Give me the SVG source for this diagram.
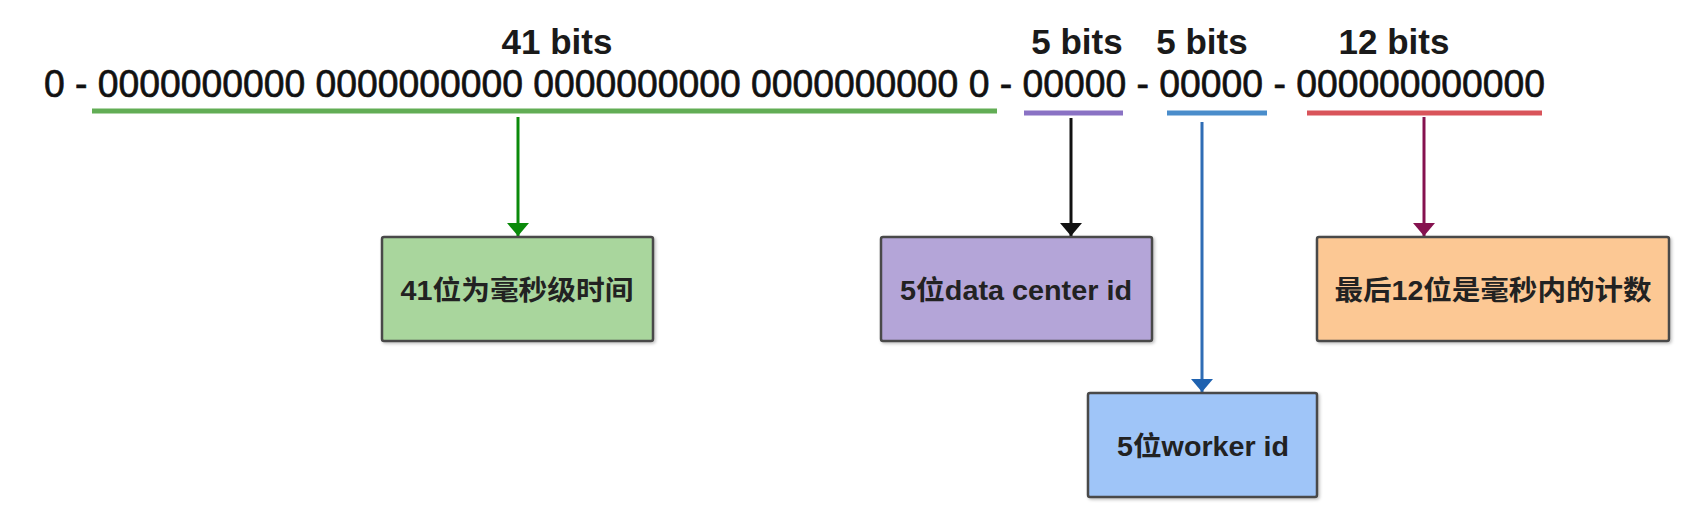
<svg xmlns="http://www.w3.org/2000/svg" width="1706" height="526" viewBox="0 0 1706 526">
<style>
.lbl{font-family:"Liberation Sans","Noto Sans CJK SC",sans-serif;font-weight:bold;font-size:35px;fill:#1a1a1a;text-anchor:middle}
.bits{font-family:"Liberation Sans","Noto Sans CJK SC",sans-serif;font-size:39px;fill:#111;stroke:#111;stroke-width:0.7}
.box{stroke:#4a4a4a;stroke-width:2.5}
.bt{font-family:"Liberation Sans","Noto Sans CJK SC",sans-serif;font-weight:bold;font-size:27px;fill:#222;text-anchor:middle;dominant-baseline:central}
.ul{stroke-width:5;fill:none}
.ar{stroke-width:3;fill:none}
</style>
<defs>
<filter id="sh" x="-5%" y="-5%" width="112%" height="115%">
<feDropShadow dx="1.5" dy="1.5" stdDeviation="1.5" flood-color="#000" flood-opacity="0.25"/>
</filter>
<marker id="mg" markerUnits="userSpaceOnUse" markerWidth="14" markerHeight="24" refX="13" refY="12" orient="auto"><path d="M0,1 L13,12 L0,23 z" fill="#0a8a0a"/></marker>
<marker id="mk" markerUnits="userSpaceOnUse" markerWidth="14" markerHeight="24" refX="13" refY="12" orient="auto"><path d="M0,1 L13,12 L0,23 z" fill="#111"/></marker>
<marker id="mb" markerUnits="userSpaceOnUse" markerWidth="14" markerHeight="24" refX="13" refY="12" orient="auto"><path d="M0,1 L13,12 L0,23 z" fill="#1f62b0"/></marker>
<marker id="mm" markerUnits="userSpaceOnUse" markerWidth="14" markerHeight="24" refX="13" refY="12" orient="auto"><path d="M0,1 L13,12 L0,23 z" fill="#85124f"/></marker>
</defs>
<rect width="1706" height="526" fill="#ffffff"/>

<g id="header">
<text class="lbl" x="557" y="54">41 bits</text>
<text class="lbl" x="1077" y="54">5 bits</text>
<text class="lbl" x="1202" y="54">5 bits</text>
<text class="lbl" x="1394" y="54">12 bits</text>
<text class="bits" x="44" y="97" textLength="1501" lengthAdjust="spacingAndGlyphs">0 - 0000000000 0000000000 0000000000 0000000000 0 - 00000 - 00000 - 000000000000</text>
</g>

<g id="underlines">
<line class="ul" x1="92" y1="111" x2="997" y2="111" stroke="#62ad55"/>
<line class="ul" x1="1024" y1="113" x2="1123" y2="113" stroke="#8a72c4"/>
<line class="ul" x1="1167" y1="113" x2="1267" y2="113" stroke="#4a8dcb"/>
<line class="ul" x1="1307" y1="113" x2="1542" y2="113" stroke="#d9545a"/>
</g>

<g id="connectors">
<line class="ar" x1="518" y1="117" x2="518" y2="236" stroke="#0a8a0a" marker-end="url(#mg)"/>
<line class="ar" x1="1071" y1="118" x2="1071" y2="236" stroke="#111" marker-end="url(#mk)"/>
<line class="ar" x1="1202" y1="122" x2="1202" y2="392" stroke="#2f6db5" marker-end="url(#mb)"/>
<line class="ar" x1="1424" y1="117" x2="1424" y2="236" stroke="#85124f" marker-end="url(#mm)"/>
</g>

<g id="node-time">
<rect class="box" x="382" y="237" width="271" height="104" rx="2" fill="#a9d69d" filter="url(#sh)"/>
<text class="bt" x="517" y="291" textLength="233" lengthAdjust="spacingAndGlyphs">41位为毫秒级时间</text>
</g>
<g id="node-datacenter">
<rect class="box" x="881" y="237" width="271" height="104" rx="2" fill="#b4a5d8" filter="url(#sh)"/>
<text class="bt" x="1016" y="291" textLength="232" lengthAdjust="spacingAndGlyphs">5位data center id</text>
</g>
<g id="node-worker">
<rect class="box" x="1088" y="393" width="229" height="104" rx="2" fill="#9fc5f8" filter="url(#sh)"/>
<text class="bt" x="1203" y="447" textLength="172" lengthAdjust="spacingAndGlyphs">5位worker id</text>
</g>
<g id="node-sequence">
<rect class="box" x="1317" y="237" width="352" height="104" rx="2" fill="#fcc894" filter="url(#sh)"/>
<text class="bt" x="1493" y="291" textLength="317" lengthAdjust="spacingAndGlyphs">最后12位是毫秒内的计数</text>
</g>
</svg>
